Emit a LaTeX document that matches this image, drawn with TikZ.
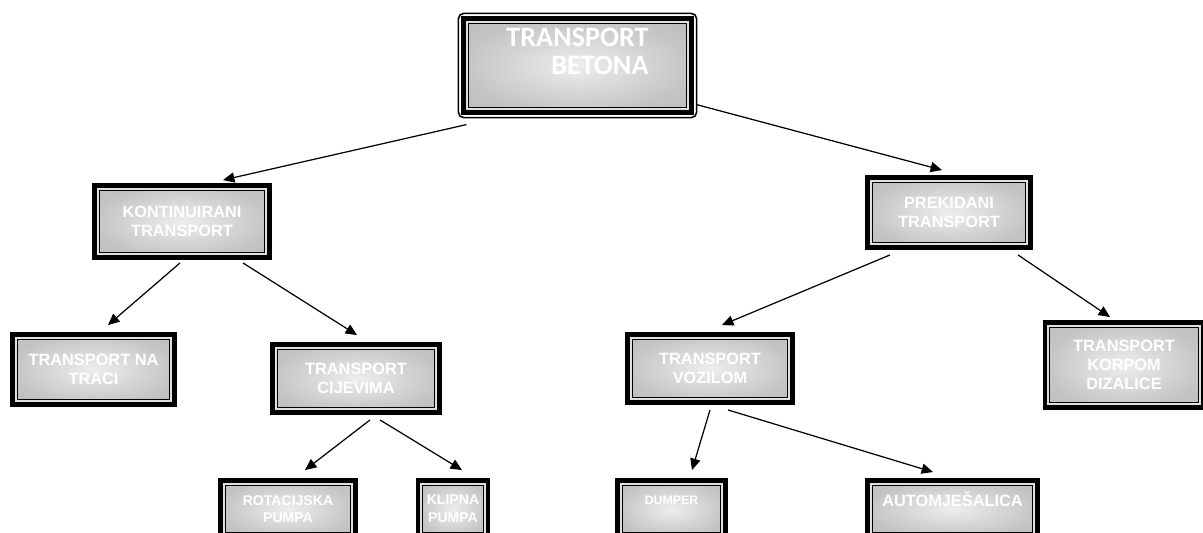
\documentclass[tikz,border=0pt]{standalone}
\usepackage{fontspec}
\newfontfamily\boxfont{Liberation Sans}
\newfontfamily\titlefont{Carlito}
\usetikzlibrary{arrows.meta}

\pgfdeclareradialshading{boxglow}{\pgfpoint{0bp}{0bp}}{color(0bp)=(gray!14); color(25bp)=(gray!46); color(40bp)=(gray!56); color(75bp)=(gray!60)}

\tikzset{
	frame/.style={draw=black, line width=2.8pt, shade, shading=boxglow,
		text=white, align=center, inner sep=0pt,
		path picture={
			\draw[gray!25, line width=1pt] ([shift={(1.9pt,1.9pt)}]path picture bounding box.south west) rectangle ([shift={(-1.9pt,-1.9pt)}]path picture bounding box.north east);
			\draw[black, line width=0.6pt] ([shift={(2.7pt,2.7pt)}]path picture bounding box.south west) rectangle ([shift={(-2.7pt,-2.7pt)}]path picture bounding box.north east);
		}},
	box/.style={frame, font=\boxfont\bfseries\fontsize{9.3}{11}\selectfont},
	smallbox/.style={frame, font=\boxfont\bfseries\fontsize{8}{10}\selectfont},
	titlebox/.style={frame, line width=2.4pt, font=\titlefont\bfseries\fontsize{16}{16}\selectfont, align=right},
	link/.style={-{Triangle[length=6.5pt,width=5.8pt]}, line width=0.7pt},
}

\begin{document}
\begin{tikzpicture}[x=0.02cm, y=-0.02cm]
	\useasboundingbox (0,0) rectangle (1203,532);

	% top
	\node[titlebox, minimum width=4.56cm, minimum height=1.88cm] (beton) at (577.5,65.5) {TRANSPORT\\BETONA\\\mbox{}};
	\draw[line width=0.9pt, rounded corners=3pt] ([shift={(-3,3)}]beton.south west) rectangle ([shift={(3,-3)}]beton.north east);

	% second row
	\node[box, minimum width=3.5cm, minimum height=1.44cm] (kont) at (182,221.5) {KONTINUIRANI\\TRANSPORT};
	\node[box, minimum width=3.26cm, minimum height=1.40cm] (prek) at (949,212.5) {PREKIDANI\\TRANSPORT};

	% third row
	\node[box, minimum width=3.24cm, minimum height=1.40cm] (traka) at (93.5,369.5) {TRANSPORT NA\\TRACI};
	\node[box, minimum width=3.34cm, minimum height=1.36cm] (cijev) at (356,378.5) {TRANSPORT\\CIJEVIMA};
	\node[box, minimum width=3.30cm, minimum height=1.36cm] (vozilo) at (710,368.5) {TRANSPORT\\VOZILOM};
	\node[box, minimum width=3.16cm, minimum height=1.70cm] (korpa) at (1124,365) {TRANSPORT\\KORPOM\\DIZALICE};

	% bottom row
	\node[smallbox, minimum width=2.7cm, minimum height=1.14cm] (rot) at (288,509) {ROTACIJSKA\\PUMPA};
	\node[smallbox, minimum width=1.40cm, minimum height=1.14cm] (klip) at (453,509) {KLIPNA\\PUMPA};
	\node[smallbox, font=\boxfont\bfseries\fontsize{7}{10}\selectfont, minimum width=2.16cm, minimum height=1.14cm] (dump) at (671.5,509) {DUMPER\\\mbox{}};
	\node[box, minimum width=3.4cm, minimum height=1.14cm] (auto) at (952.5,509) {AUTOMJEŠALICA\\\mbox{}};

	% arrows
	\draw[link] ([shift={(5,10)}]beton.south west) -- ([shift={(41,-3)}]kont.north);
	\draw[link] ([shift={(3,-10)}]beton.south east) -- ([shift={(-7,-5)}]prek.north);
	\draw[link] ([shift={(-2,3)}]kont.south) -- ([shift={(14.5,-7)}]traka.north);
	\draw[link] ([shift={(61,3)}]kont.south) -- ([shift={(1,-7)}]cijev.north);
	\draw[link] ([shift={(-59,5)}]prek.south) -- ([shift={(12,-7)}]vozilo.north);
	\draw[link] ([shift={(69,5)}]prek.south) -- ([shift={(-14,-3)}]korpa.north);
	\draw[link] ([shift={(14,5)}]cijev.south) -- ([shift={(17,-8)}]rot.north);
	\draw[link] ([shift={(24,5)}]cijev.south) -- ([shift={(9,-8)}]klip.north);
	\draw[link] ([shift={(0,5)}]vozilo.south) -- ([shift={(20.5,-8)}]dump.north);
	\draw[link] ([shift={(18,5)}]vozilo.south) -- ([shift={(-19.5,-6)}]auto.north);
\end{tikzpicture}
\end{document}
